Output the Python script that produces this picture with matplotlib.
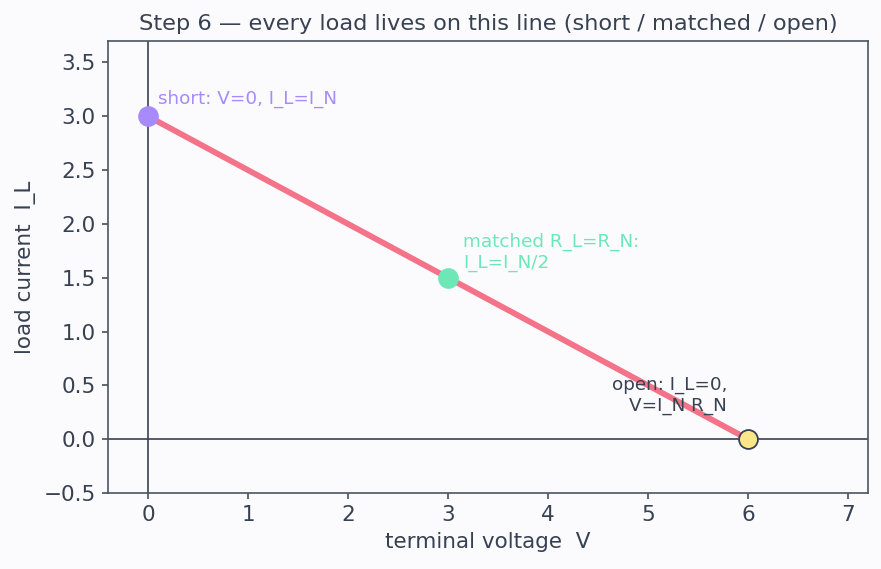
import matplotlib.pyplot as plt
import numpy as np

plt.rcParams['font.family'] = ['DejaVu Sans']

# Norton source: I_N = 3, R_N = 2 -> open-circuit V = 6
v_line = [0, 6]
i_line = [3, 0]

pt_names = ["short", "matched", "open"]
pt_v = [0, 3, 6]
pt_i = [3.0, 1.5, 0.0]
pt_colors = ["#a78bfa", "#6ee7b7", "#fde68a"]
pt_labels = ["short: V=0, I_L=I_N", "matched R_L=R_N:\nI_L=I_N/2", "open: I_L=0,\nV=I_N R_N"]

bg = "#fbfbfe"
ink = "#374151"

fig = plt.figure(figsize=(8.81, 5.69), dpi=100, facecolor=bg)
ax = fig.add_axes([0.1226, 0.1336, 0.8627, 0.7944])
ax.set_facecolor(bg)

ax.axhline(0, color=ink, lw=1.2, zorder=1)
ax.axvline(0, color=ink, lw=1.2, zorder=1)
ax.plot(v_line, i_line, color="#f47388", lw=4.2, zorder=2)

for k in range(3):
    edge = ink if pt_names[k] == "open" else pt_colors[k]
    ax.scatter(pt_v[k], pt_i[k], s=185, color=pt_colors[k], edgecolors=edge,
               linewidths=1.3, zorder=3)

ax.text(0.1, 3.08, pt_labels[0], color=pt_colors[0], fontsize=13.2, ha="left", va="bottom")
ax.text(3.15, 1.555, pt_labels[1], color=pt_colors[1], fontsize=13.2, ha="left", va="bottom")
ax.text(5.79, 0.22, pt_labels[2], color=ink, fontsize=13.2, ha="right", va="bottom",
        multialignment="right")

ax.set_xlim(-0.4, 7.2)
ax.set_ylim(-0.5, 3.7)
ax.set_xticks(np.arange(0, 8, 1))
ax.set_yticks(np.arange(-0.5, 3.6, 0.5))
ax.tick_params(colors=ink, labelsize=15.5, length=4.5, width=1.1, pad=4.5)
for s in ax.spines.values():
    s.set_color("#4b5563")
    s.set_linewidth(1.2)

ax.set_xlabel("terminal voltage  V", color=ink, fontsize=15.5, labelpad=5)
ax.set_ylabel("load current  I_L", color=ink, fontsize=15.5, labelpad=5)
ax.set_title("Step 6 — every load lives on this line (short / matched / open)",
             color=ink, fontsize=16.2, pad=8)

fig.savefig("out.png", dpi=100, facecolor=bg)
